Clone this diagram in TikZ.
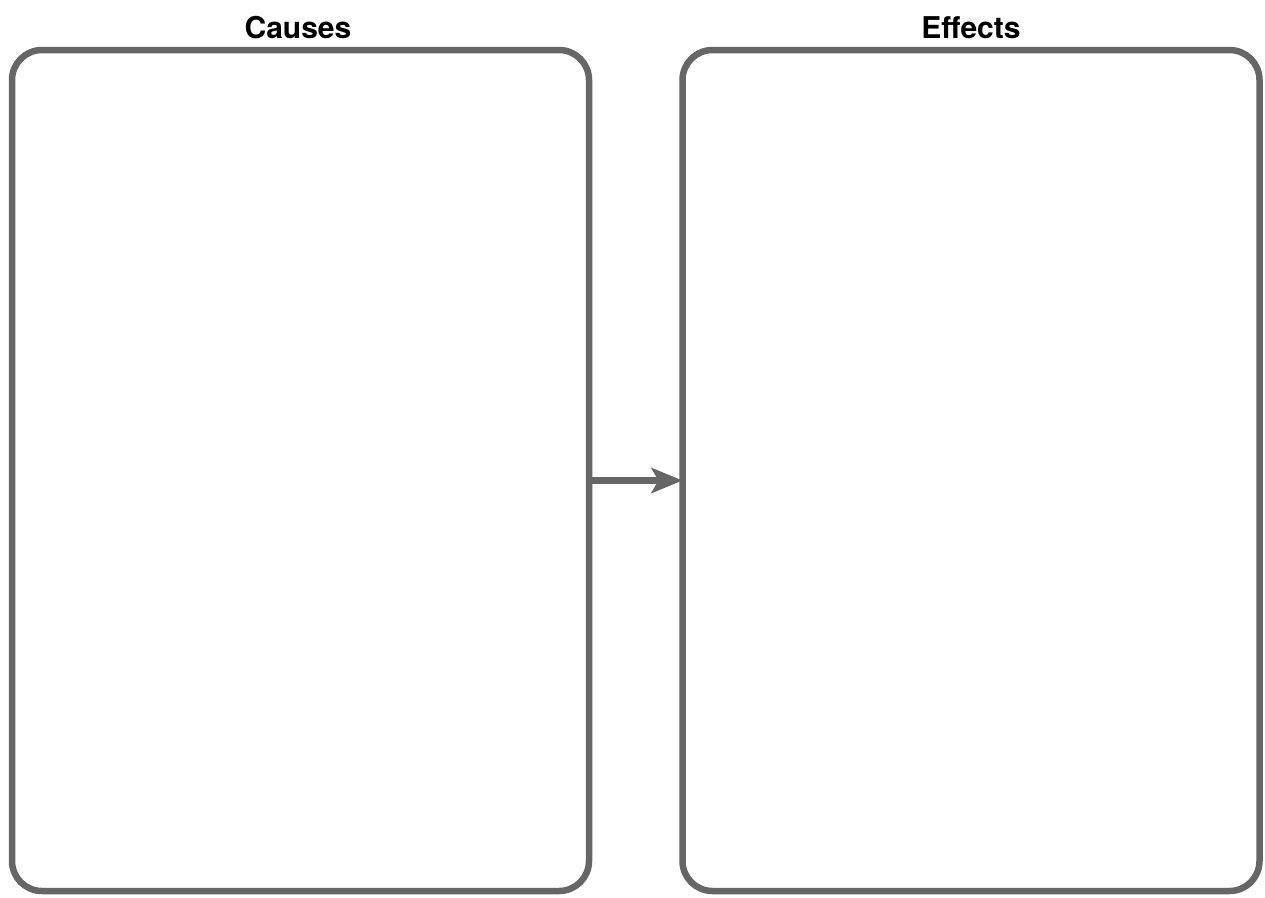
\documentclass[tikz,border=0pt]{standalone}
\usepackage{fontspec}
\setmainfont{TeX Gyre Heros}
\usetikzlibrary{arrows.meta}
\definecolor{boxgray}{RGB}{102,102,102}

\begin{document}
\begin{tikzpicture}[x=1pt,y=-1pt,
  panel/.style={draw=boxgray,line width=6.5pt,rectangle,rounded corners=30pt,inner sep=0pt,outer sep=0pt,minimum width=577pt,minimum height=841pt},
  title/.style={anchor=base,font=\fontsize{30}{36}\selectfont\bfseries}]
\useasboundingbox (0,0) rectangle (1265,897);
\node[panel] (causes) at (300.5,470.5) {};
\node[panel] (effects) at (971,470.5) {};
\node[title] (causestitle) at (298,38) {Causes};
\node[title] (effectstitle) at (971,38) {Effects};
\draw[boxgray,line width=6.5pt,-{Stealth[length=31pt,width=25pt,inset=7pt]}] ([yshift=-10pt]causes.east) -- ([yshift=-10pt]effects.west);
\end{tikzpicture}
\end{document}
